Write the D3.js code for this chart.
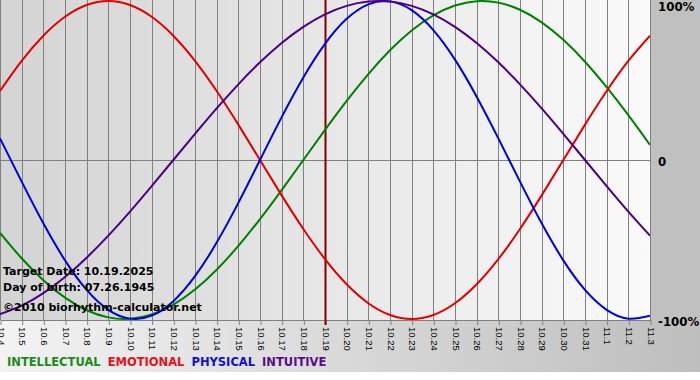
<!DOCTYPE html>
<html>
<head>
<meta charset="utf-8">
<script src="https://cdn.jsdelivr.net/npm/d3@7"></script>
<style>
  html, body { margin: 0; padding: 0; background: #ffffff; }
  svg { display: block; }
</style>
</head>
<body>
<svg id="chart" width="700" height="380"></svg>
<script>
// ---- data ----
const dates = ["10.4","10.5","10.6","10.7","10.8","10.9","10.10","10.11","10.12","10.13","10.14","10.15","10.16","10.17","10.18","10.19","10.20","10.21","10.22","10.23","10.24","10.25","10.26","10.27","10.28","10.29","10.30","10.31","11.1","11.2","11.3"];
const intellectual = [-0.4582,-0.6182,-0.7557,-0.8660,-0.9450,-0.9898,-0.9989,-0.9718,-0.9096,-0.8146,-0.6901,-0.5406,-0.3717,-0.1893,0,0.1893,0.3717,0.5406,0.6901,0.8146,0.9096,0.9718,0.9989,0.9898,0.9450,0.8660,0.7557,0.6182,0.4582,0.2817,0.0951];
const emotional = [0.4339,0.6235,0.7818,0.9010,0.9749,1,0.9749,0.9010,0.7818,0.6235,0.4339,0.2225,0,-0.2225,-0.4339,-0.6235,-0.7818,-0.9010,-0.9749,-1,-0.9749,-0.9010,-0.7818,-0.6235,-0.4339,-0.2225,0,0.2225,0.4339,0.6235,0.7818];
const physical = [0.1362,-0.1362,-0.3984,-0.6311,-0.8170,-0.9423,-0.9977,-0.9791,-0.8879,-0.7308,-0.5196,-0.2698,0,0.2698,0.5196,0.7308,0.8879,0.9791,0.9977,0.9423,0.8170,0.6311,0.3984,0.1362,-0.1362,-0.3984,-0.6311,-0.8170,-0.9423,-0.9977,-0.9791];
const intuitive = [-0.9694,-0.9158,-0.8372,-0.7357,-0.6142,-0.4759,-0.3247,-0.1646,0,0.1646,0.3247,0.4759,0.6142,0.7357,0.8372,0.9158,0.9694,0.9966,0.9966,0.9694,0.9158,0.8372,0.7357,0.6142,0.4759,0.3247,0.1646,0,-0.1646,-0.3247,-0.4759];
const seriesNames = ["INTELLECTUAL","EMOTIONAL","PHYSICAL","INTUITIVE"];
const yTickValues = [1, 0, -1];
const yTickLabels = ["100%", "0", "-100%"];
const targetDate = "10.19";
const infoLines = ["Target Date: 10.19.2025", "Day of birth: 07.26.1945", "\u00A92010 biorhythm-calculator.net"];

// ---- layout ----
const W = 700, H = 380;
const plotW = 650, plotH = 320;
const colors = { INTELLECTUAL: "#008000", EMOTIONAL: "#e00000", PHYSICAL: "#0000d8", INTUITIVE: "#4b0082" };
const legendColors = { INTELLECTUAL: "#1a8a1a", EMOTIONAL: "#e8101c", PHYSICAL: "#1010d0", INTUITIVE: "#5a0a8a" };
const seriesData = { INTELLECTUAL: intellectual, EMOTIONAL: emotional, PHYSICAL: physical, INTUITIVE: intuitive };

const svg = d3.select("#chart");
const defs = svg.append("defs");

const gPlot = defs.append("linearGradient").attr("id", "plotGrad").attr("x1", "0").attr("x2", "1").attr("y1", "0").attr("y2", "0");
gPlot.append("stop").attr("offset", "0").attr("stop-color", "#d4d4d4");
gPlot.append("stop").attr("offset", "1").attr("stop-color", "#fafafa");

const gBottom = defs.append("linearGradient").attr("id", "botGrad").attr("x1", "0").attr("x2", "1").attr("y1", "0").attr("y2", "0");
gBottom.append("stop").attr("offset", "0").attr("stop-color", "#f3f3f3");
gBottom.append("stop").attr("offset", "1").attr("stop-color", "#bebebe");

defs.append("clipPath").attr("id", "plotClip")
  .append("rect").attr("x", 0).attr("y", 0).attr("width", plotW).attr("height", plotH);

// backgrounds
svg.append("rect").attr("x", 0).attr("y", plotH).attr("width", W).attr("height", 52).attr("fill", "url(#botGrad)");
svg.append("rect").attr("x", plotW).attr("y", 0).attr("width", W - plotW).attr("height", plotH).attr("fill", "#c0c0c0");
svg.append("rect").attr("x", 0).attr("y", 0).attr("width", plotW).attr("height", plotH).attr("fill", "url(#plotGrad)");

// scales
const x = d3.scalePoint().domain(dates).range([0, plotW]);
const y = d3.scaleLinear().domain([-1, 1]).range([319, 1]);

// vertical grid
svg.append("g").selectAll("line").data(dates).join("line")
  .attr("x1", d => Math.round(x(d)) + 0.5).attr("x2", d => Math.round(x(d)) + 0.5)
  .attr("y1", 0).attr("y2", plotH)
  .attr("stroke", "#808080").attr("stroke-width", 1);

// zero line
svg.append("line")
  .attr("x1", 0).attr("x2", plotW)
  .attr("y1", Math.round(y(0)) + 0.5).attr("y2", Math.round(y(0)) + 0.5)
  .attr("stroke", "#808080").attr("stroke-width", 1);

// x axis
const xAxis = d3.axisBottom(x).tickSize(5).tickSizeOuter(0).tickPadding(3);
const gx = svg.append("g").attr("transform", `translate(0.5,${plotH})`).call(xAxis);
gx.select(".domain").attr("stroke", "#808080");
gx.selectAll(".tick line").attr("stroke", "#808080");
gx.selectAll(".tick text")
  .attr("font-family", "'Liberation Sans', Arial, sans-serif")
  .attr("font-size", 9.5)
  .attr("fill", "#000")
  .attr("transform", "rotate(90)")
  .attr("text-anchor", "start")
  .attr("x", 7)
  .attr("y", 0)
  .attr("dy", "0.35em");

// target line
svg.append("line")
  .attr("x1", Math.round(x(targetDate)) + 0.5).attr("x2", Math.round(x(targetDate)) + 0.5)
  .attr("y1", 0).attr("y2", plotH + 5)
  .attr("stroke", "#800000").attr("stroke-width", 2);

// curves
const line = d3.line()
  .x((d, i) => x(dates[i]))
  .y(d => y(d))
  .curve(d3.curveNatural);

const gLines = svg.append("g").attr("clip-path", "url(#plotClip)");
seriesNames.forEach(name => {
  gLines.append("path")
    .datum(seriesData[name])
    .attr("d", line)
    .attr("fill", "none")
    .attr("stroke", colors[name])
    .attr("stroke-width", 2);
});

// right y labels
const yLabelY = [11, 166, 326];
svg.append("g").selectAll("text").data(yTickValues).join("text")
  .attr("x", 658)
  .attr("y", (d, i) => yLabelY[i])
  .attr("font-family", "'DejaVu Sans', Verdana, sans-serif")
  .attr("font-weight", "bold")
  .attr("font-size", 11.8)
  .attr("fill", "#000")
  .text((d, i) => yTickLabels[i]);

// info text
svg.append("g").selectAll("text").data(infoLines).join("text")
  .attr("x", 3)
  .attr("y", (d, i) => [275, 291, 311][i])
  .attr("font-family", "'DejaVu Sans', Verdana, sans-serif")
  .attr("font-weight", "bold")
  .attr("font-size", 11)
  .attr("fill", "#000")
  .text(d => d);

// legend
let lx = 7;
const gLeg = svg.append("g");
seriesNames.forEach(name => {
  const t = gLeg.append("text")
    .attr("x", lx).attr("y", 366)
    .attr("font-family", "'DejaVu Sans', Verdana, sans-serif")
    .attr("font-weight", "bold")
    .attr("font-size", 11.5)
    .attr("fill", legendColors[name])
    .text(name);
  lx += t.node().getComputedTextLength() + 7;
});
</script>
</body>
</html>
